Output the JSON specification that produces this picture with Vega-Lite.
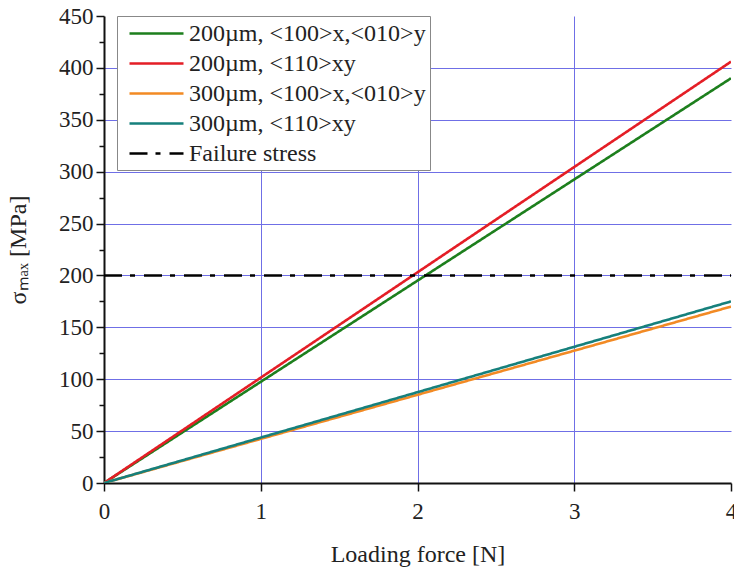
{
  "$schema": "https://vega.github.io/schema/vega-lite/v6.json",
  "autosize": "none",
  "width": 627,
  "height": 467,
  "padding": {"left": 104, "top": 16, "right": 3, "bottom": 89},
  "background": "white",
  "config": {
    "font": "Liberation Serif",
    "view": {"stroke": null},
    "axis": {"labelFont": "Liberation Serif", "titleFont": "Liberation Serif"},
    "legend": {"labelFont": "Liberation Serif"}
  },
  "data": {
    "values": [
      {"force": 0, "stress": 0, "series": "200µm, <100>x,<010>y"},
      {"force": 4, "stress": 390, "series": "200µm, <100>x,<010>y"},
      {"force": 0, "stress": 0, "series": "200µm, <110>xy"},
      {"force": 4, "stress": 406, "series": "200µm, <110>xy"},
      {"force": 0, "stress": 0, "series": "300µm, <100>x,<010>y"},
      {"force": 4, "stress": 170, "series": "300µm, <100>x,<010>y"},
      {"force": 0, "stress": 0, "series": "300µm, <110>xy"},
      {"force": 4, "stress": 175, "series": "300µm, <110>xy"},
      {"force": 0, "stress": 200, "series": "Failure stress"},
      {"force": 4, "stress": 200, "series": "Failure stress"}
    ]
  },
  "mark": {"type": "line", "strokeWidth": 2.6, "clip": true},
  "encoding": {
    "x": {
      "field": "force", "type": "quantitative",
      "scale": {"domain": [0, 4], "nice": false},
      "axis": {
        "title": "Loading force [N]",
        "titleFontSize": 24, "titleFontWeight": "normal", "titleColor": "#222", "titlePadding": 19,
        "values": [0, 0.5, 1, 1.5, 2, 2.5, 3, 3.5, 4],
        "format": "d",
        "labelExpr": "datum.value % 1 == 0 ? datum.label : ''",
        "labelFontSize": 23, "labelColor": "#222", "labelPadding": 9, "labelFlush": false, "labelOverlap": false,
        "domainColor": "#111", "domainWidth": 2,
        "tickColor": "#111", "tickWidth": 1.5,
        "tickSize": {"condition": {"test": "datum.value % 1 == 0", "value": 8}, "value": 5},
        "grid": true, "gridColor": "#6f6fe6", "gridWidth": 1,
        "gridOpacity": {"condition": {"test": "datum.value % 1 == 0 && datum.value > 0 && datum.value < 4", "value": 1}, "value": 0}
      }
    },
    "y": {
      "field": "stress", "type": "quantitative",
      "scale": {"domain": [0, 450], "nice": false},
      "axis": {
        "title": "σₘₐₓ [MPa]",
        "titleFontSize": 24, "titleFontWeight": "normal", "titleColor": "#222", "titlePadding": 28,
        "values": [0, 25, 50, 75, 100, 125, 150, 175, 200, 225, 250, 275, 300, 325, 350, 375, 400, 425, 450],
        "labelExpr": "datum.value % 50 == 0 ? datum.label : ''",
        "labelFontSize": 23, "labelColor": "#222", "labelPadding": 3, "labelFlush": false, "labelOverlap": false,
        "domainColor": "#111", "domainWidth": 2,
        "tickColor": "#111", "tickWidth": 1.5,
        "tickSize": {"condition": {"test": "datum.value % 50 == 0", "value": 8}, "value": 5},
        "grid": true, "gridColor": "#6f6fe6", "gridWidth": 1,
        "gridOpacity": {"condition": {"test": "datum.value % 50 == 0 && datum.value > 0 && datum.value < 450", "value": 1}, "value": 0}
      }
    },
    "color": {
      "field": "series", "type": "nominal",
      "scale": {
        "domain": ["200µm, <100>x,<010>y", "200µm, <110>xy", "300µm, <100>x,<010>y", "300µm, <110>xy", "Failure stress"],
        "range": ["#1d7f1d", "#e41e26", "#f28a24", "#16807c", "#000000"]
      },
      "legend": {
        "title": null, "orient": "none", "legendX": 13, "legendY": 0,
        "labelFontSize": 24, "labelColor": "#222", "labelLimit": 400, "labelOffset": 4,
        "symbolType": "M-3.5,0H1", "symbolSize": 576, "symbolStrokeWidth": 3, "symbolOffset": 37,
        "rowPadding": 4, "padding": 4,
        "strokeColor": "#888", "fillColor": "white"
      }
    },
    "strokeDash": {
      "field": "series", "type": "nominal",
      "scale": {
        "domain": ["200µm, <100>x,<010>y", "200µm, <110>xy", "300µm, <100>x,<010>y", "300µm, <110>xy", "Failure stress"],
        "range": [[1, 0], [1, 0], [1, 0], [1, 0], [18, 8, 5, 9]]
      }
    },
    "strokeWidth": {
      "field": "series", "type": "nominal",
      "scale": {
        "domain": ["200µm, <100>x,<010>y", "200µm, <110>xy", "300µm, <100>x,<010>y", "300µm, <110>xy", "Failure stress"],
        "range": [2.6, 2.6, 2.6, 2.6, 4]
      },
      "legend": null
    }
  }
}
